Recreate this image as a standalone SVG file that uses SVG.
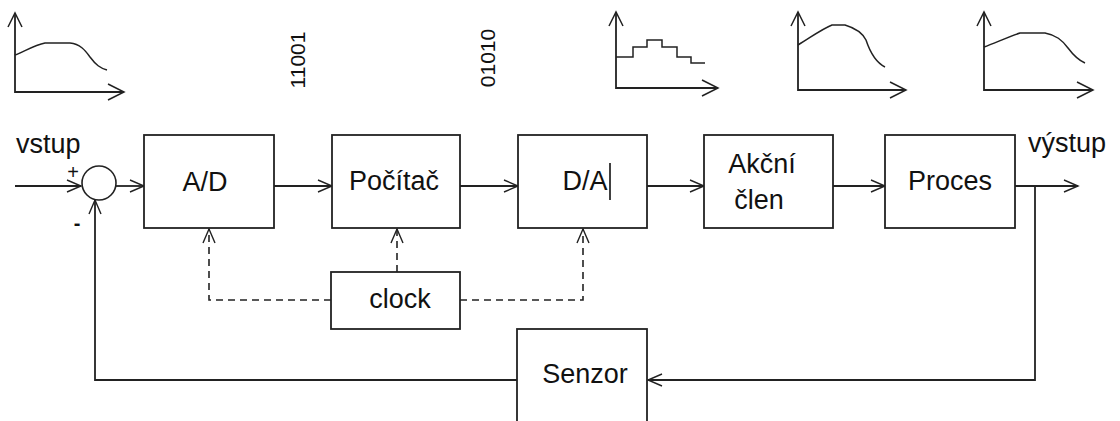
<svg xmlns="http://www.w3.org/2000/svg" width="1120" height="421" viewBox="0 0 1120 421">
<defs>
<marker id="arr" viewBox="-16 -8 18 16" refX="0" refY="0" markerWidth="18" markerHeight="16" markerUnits="userSpaceOnUse" orient="auto" overflow="visible">
<path d="M-14,-6 L0,0 L-14,6" fill="none" stroke="#222" stroke-width="1.4"/>
</marker>
<style>
.box{fill:#fff;stroke:#222;stroke-width:1.8}
.ln{fill:none;stroke:#222;stroke-width:1.8}
.dash{fill:none;stroke:#222;stroke-width:1.6;stroke-dasharray:7,5}
.t{font-family:"Liberation Sans",Arial,sans-serif;font-size:27px;fill:#111}
.g{fill:none;stroke:#222;stroke-width:1.5}
.ax{fill:none;stroke:#222;stroke-width:1.8}
</style>
</defs>
<rect width="1120" height="421" fill="#fff"/>

<g id="graphs">
<g id="graph1">
<path class="ax" d="M15,13 V92 H124"/>
<path class="g" d="M8,27 L15,13 L22,27 M108,84 L124,92 L108,100"/>
<path class="g" d="M15,55 C25,51 35,45 45,43 L70,43 C80,44 85,50 90,57 C96,65 100,68 107,70"/>
</g>
<g id="graph2">
<path class="ax" d="M616,12 V88 H718"/>
<path class="g" d="M609,26 L616,12 L623,26 M702,80 L718,88 L702,96"/>
<path class="g" d="M616,57 H633 V47 H647 V40 H662 V47 H677 V57 H691 V63 H705"/>
</g>
<g id="graph3">
<path class="ax" d="M798,12 V90 H906"/>
<path class="g" d="M791,26 L798,12 L805,26 M890,82 L906,90 L890,98"/>
<path class="g" d="M798,45 C810,38 820,30 832,25 L845,25 C855,28 862,32 866,40 C870,52 875,62 885,67"/>
</g>
<g id="graph4">
<path class="ax" d="M984,12 V90 H1093"/>
<path class="g" d="M977,26 L984,12 L991,26 M1077,82 L1093,90 L1077,98"/>
<path class="g" d="M984,47 C995,43 1008,37 1020,33 L1045,33 C1056,35 1062,40 1068,48 C1074,56 1078,60 1085,63"/>
</g>
<text class="t" transform="translate(305,60) rotate(-90)" text-anchor="middle" style="font-size:21px">11001</text>
<text class="t" transform="translate(495,58) rotate(-90)" text-anchor="middle" style="font-size:21px">01010</text>
</g>

<g id="connectors">
<line class="ln" x1="15" y1="186" x2="81" y2="186" marker-end="url(#arr)"/>
<line class="ln" x1="116" y1="186" x2="144" y2="186" marker-end="url(#arr)"/>
<line class="ln" x1="274" y1="186" x2="332" y2="186" marker-end="url(#arr)"/>
<line class="ln" x1="460" y1="186" x2="518" y2="186" marker-end="url(#arr)"/>
<line class="ln" x1="647" y1="186" x2="704" y2="186" marker-end="url(#arr)"/>
<line class="ln" x1="833" y1="186" x2="885" y2="186" marker-end="url(#arr)"/>
<line class="ln" x1="1015" y1="186" x2="1078" y2="186" marker-end="url(#arr)"/>
<polyline class="ln" points="1035,186 1035,380 648,380" marker-end="url(#arr)"/>
<polyline class="ln" points="517,380 95,380 95,200" marker-end="url(#arr)"/>
<polyline class="dash" points="331,300 209,300 209,229" marker-end="url(#arr)"/>
<line class="dash" x1="397" y1="272" x2="397" y2="229" marker-end="url(#arr)"/>
<polyline class="dash" points="460,300 583,300 583,229" marker-end="url(#arr)"/>
</g>

<g id="sum">
<circle cx="99" cy="183" r="17" fill="#fff" stroke="#222" stroke-width="1.6"/>
<text class="t" x="73" y="179" text-anchor="middle" style="font-size:20px">+</text>
<text class="t" x="77" y="230" text-anchor="middle" style="font-size:20px;font-weight:bold">-</text>
</g>
<text id="vstup" class="t" x="16" y="153">vstup</text>
<text id="vystup" class="t" x="1028" y="152">výstup</text>

<g id="ad">
<rect class="box" x="144" y="135" width="130" height="93"/>
<text class="t" x="205" y="191" text-anchor="middle">A/D</text>
</g>
<g id="pocitac">
<rect class="box" x="332" y="135" width="128" height="93"/>
<text class="t" x="394" y="190" text-anchor="middle">Počítač</text>
</g>
<g id="da">
<rect class="box" x="518" y="135" width="129" height="93"/>
<text class="t" x="585" y="190" text-anchor="middle">D/A</text>
<line x1="610" y1="163" x2="610" y2="200" stroke="#111" stroke-width="1.6"/>
</g>
<g id="akcni">
<rect class="box" x="704" y="135" width="129" height="93"/>
<text class="t" x="762" y="173" text-anchor="middle">Akční</text>
<text class="t" x="759" y="209" text-anchor="middle">člen</text>
</g>
<g id="proces">
<rect class="box" x="885" y="135" width="130" height="93"/>
<text class="t" x="950" y="190" text-anchor="middle">Proces</text>
</g>
<g id="clock">
<rect class="box" x="331" y="272" width="129" height="57"/>
<text class="t" x="400" y="308" text-anchor="middle">clock</text>
</g>
<g id="senzor">
<rect class="box" x="517" y="329" width="130" height="110"/>
<text class="t" x="585" y="383" text-anchor="middle">Senzor</text>
</g>
</svg>
